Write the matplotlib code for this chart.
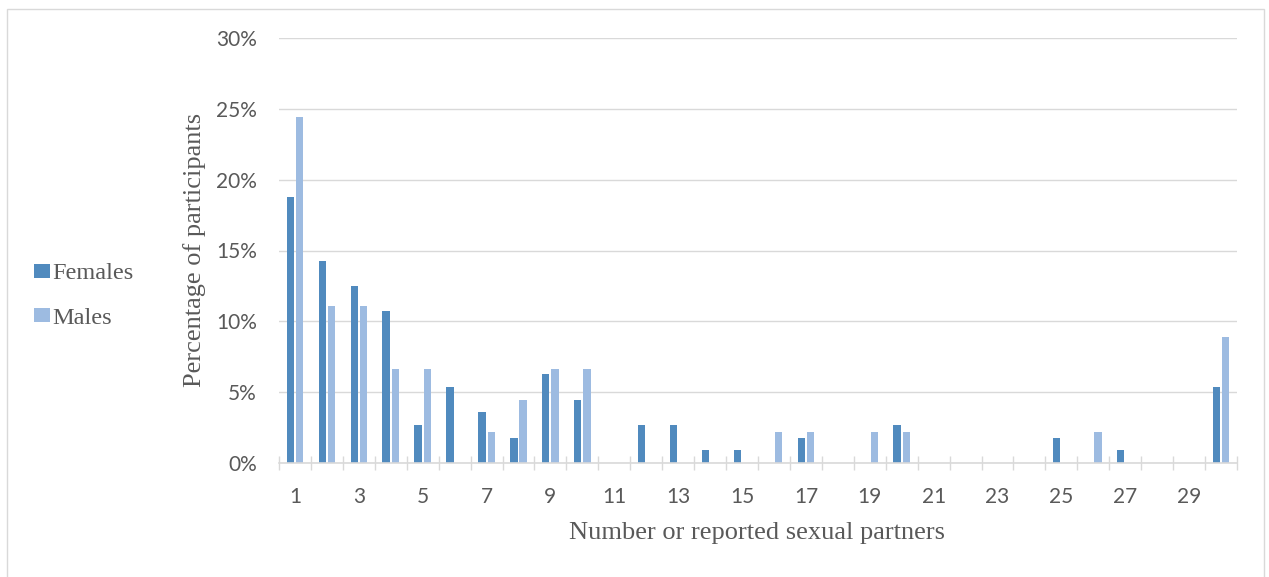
import numpy as np
import matplotlib.pyplot as plt
from matplotlib.patches import Rectangle
from matplotlib.ticker import FixedLocator, PercentFormatter

# ── Data (percent of participants) ──────────────────────
partners = np.arange(1, 31)
females = [18.75, 14.29, 12.50, 10.71, 2.68, 5.36, 3.57, 1.79, 6.25, 4.46,
           0, 2.68, 2.68, 0.89, 0.89, 0, 1.79, 0, 0, 2.68,
           0, 0, 0, 0, 1.79, 0, 0.89, 0, 0, 5.36]
males = [24.44, 11.11, 11.11, 6.67, 6.67, 0, 2.22, 4.44, 6.67, 6.67,
         0, 0, 0, 0, 0, 2.22, 2.22, 0, 2.22, 2.22,
         0, 0, 0, 0, 0, 2.22, 0, 0, 0, 8.89]
x_labels = [str(n) for n in range(1, 30, 2)]

# ── Styling ─────────────────────────────────────────────
C_FEM = '#508abe'
C_MAL = '#9dbbe1'
GRID = '#d9d9d9'
TXT = '#595959'
SANS = 'Lato'
SERIF = 'Liberation Serif'

W, H = 1269, 577
fig = plt.figure(figsize=(W / 100, H / 100), dpi=100)

# outer chart border
fig.patches.append(Rectangle((7 / W, -0.05), (1264 - 7) / W, 1.05 - 9 / H,
                             transform=fig.transFigure, fill=False,
                             edgecolor=GRID, linewidth=1.0))

ax = fig.add_axes([279 / W, 1 - 463 / H, (1237 - 279) / W, (463 - 38) / H])

bw = 0.23
ax.bar(partners - 0.145, females, width=bw, color=C_FEM, label='Females', zorder=3)
ax.bar(partners + 0.145, males, width=bw, color=C_MAL, label='Males', zorder=3)

ax.set_xlim(0.5, 30.5)
ax.set_ylim(0, 30)

# gridlines
ax.set_yticks(np.arange(0, 31, 5))
ax.yaxis.set_major_formatter(PercentFormatter(decimals=0))
ax.grid(axis='y', color=GRID, linewidth=1.0, zorder=0)
ax.tick_params(axis='y', length=0, pad=16, labelsize=15, labelcolor=TXT)

# x ticks: labels on odd categories, cross marks on boundaries
ax.set_xticks(partners[::2])
ax.set_xticklabels(x_labels, fontfamily=SANS)
ax.xaxis.set_minor_locator(FixedLocator(np.arange(0.5, 31, 1)))
ax.tick_params(axis='x', which='major', length=0, pad=17, labelsize=15, labelcolor=TXT)
ax.tick_params(axis='x', which='minor', direction='inout', length=10,
               width=1.0, color=GRID)
for lbl in ax.get_yticklabels():
    lbl.set_fontfamily(SANS)

for s in ['top', 'right', 'left']:
    ax.spines[s].set_visible(False)
ax.spines['bottom'].set_color(GRID)
ax.spines['bottom'].set_linewidth(1.2)
ax.spines['bottom'].set_zorder(4)

# axis titles
fig.text(757 / W, 1 - 533 / H, 'Number or reported sexual partners',
         ha='center', va='center', fontsize=19, family=SERIF, color=TXT)
fig.text(195 / W, 1 - 250 / H, 'Percentage of participants', rotation=90,
         ha='center', va='center', fontsize=19, family=SERIF, color=TXT)

# legend on the left
handles, labels = ax.get_legend_handles_labels()
fig.legend(handles, labels, loc='center left', bbox_to_anchor=(12 / W, 1 - 296 / H),
           frameon=False, prop={'family': SERIF, 'size': 17.5},
           labelcolor=TXT, handlelength=0.65, handleheight=0.5,
           handletextpad=0.1, labelspacing=0.95)

fig.savefig('out.png', dpi=100)
